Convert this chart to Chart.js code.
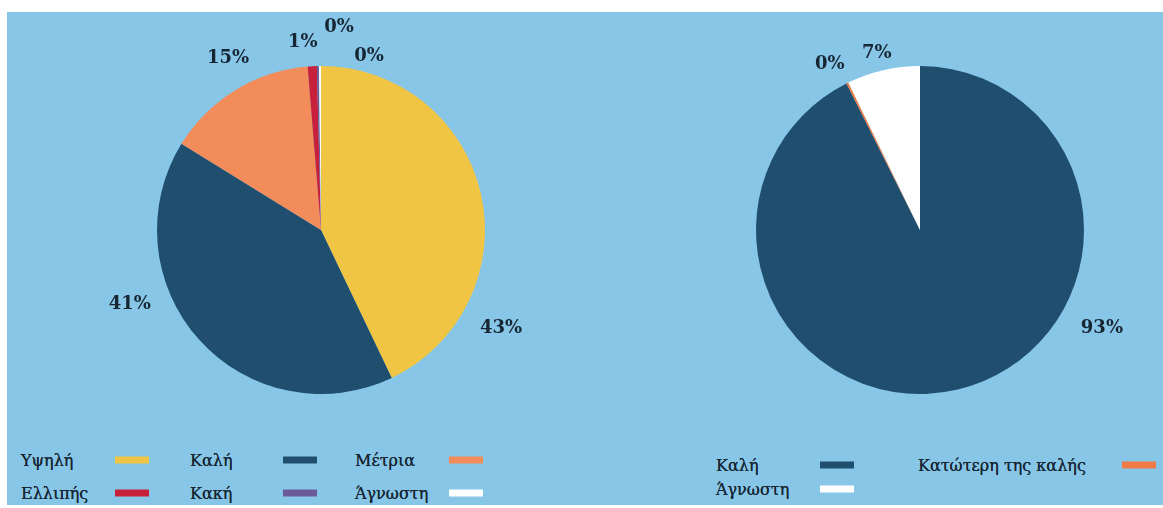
<!DOCTYPE html>
<html>
<head>
<meta charset="utf-8">
<script src="https://cdn.jsdelivr.net/npm/chart.js@4.4.0/dist/chart.umd.min.js"></script>
<style>
  html, body { margin: 0; padding: 0; background: #ffffff; }
  #panel { position: absolute; left: 7px; top: 12px; width: 1156px; height: 493px; background: #88c6e7; }
  .box { position: absolute; }
  .lg { position: absolute; font-family: "DejaVu Serif", serif; font-size: 16px; color: #172633; transform: translateY(-50%); white-space: nowrap; text-shadow: 0 0 0.4px #172633; }
  .sw { position: absolute; height: 7px; width: 34px; transform: translateY(-50%); }
</style>
</head>
<body>
<div id="panel"></div>
<div class="box" style="left:7px;top:12px;width:600px;height:420px"><canvas id="chart-left"></canvas></div>
<div class="box" style="left:607px;top:12px;width:556px;height:420px"><canvas id="chart-right"></canvas></div>
<div id="legends"></div>
<script>
// left pie: quality of the whole
var leftLabels = ["Υψηλή", "Καλή", "Μέτρια", "Ελλιπής", "Κακή", "Άγνωστη"];
var leftValues = [42.9, 40.9, 14.9, 0.9, 0.2, 0.2];
var leftText = ["43%", "41%", "15%", "1%", "0%", "0%"];
var leftColors = ["#f0c544", "#1f4e6e", "#f28c5a", "#c8203a", "#6a5a9a", "#ffffff"];

// right pie
var rightLabels = ["Καλή", "Κατώτερη της καλής", "Άγνωστη"];
var rightValues = [92.6, 0.2, 7.2];
var rightText = ["93%", "0%", "7%"];
var rightColors = ["#1f4e6e", "#f07a45", "#ffffff"];

// draws the % texts around the pie, angle in degrees from 12 o'clock
var outLabels = {
    id: 'outLabels',
    afterDatasetsDraw: function(chart, args, opts) {
        var ctx = chart.ctx;
        var arcs = chart.getDatasetMeta(0).data;
        ctx.save();
        ctx.font = 'bold 18px "DejaVu Serif", serif';
        ctx.fillStyle = '#172633';
        ctx.textAlign = 'center';
        ctx.textBaseline = 'middle';
        arcs.forEach(function(arc, i) {
            var p = opts.place[i];
            var a = (p[0] - 90) * Math.PI / 180;
            var d = arc.outerRadius + p[1];
            ctx.fillText(opts.text[i], arc.x + Math.cos(a) * d, arc.y + Math.sin(a) * d);
        });
        ctx.restore();
    }
};

function makePie(id, labels, values, colors, text, pad, place) {
    return new Chart(document.getElementById(id), {
        type: 'pie',
        data: {
            labels: labels,
            datasets: [{
                data: values,
                backgroundColor: colors,
                borderWidth: 0
            }]
        },
        options: {
            responsive: true,
            maintainAspectRatio: false,
            animation: false,
            layout: { padding: pad },
            plugins: {
                legend: { display: false },
                tooltip: { enabled: false },
                outLabels: { text: text, place: place }
            }
        },
        plugins: [outLabels]
    });
}

makePie('chart-left', leftLabels, leftValues, leftColors, leftText,
    { left: 150, right: 122, top: 54, bottom: 38 },
    [[118.6, 41], [248.8, 41], [331.5, 31], [354.5, 25], [5.1, 39], [15.5, 16]]);
makePie('chart-right', rightLabels, rightValues, rightColors, rightText,
    { left: 149, right: 79, top: 54, bottom: 38 },
    [[118.5, 43], [331.5, 25], [346.3, 18]]);

// legends, drawn as plain html rows
function addLegend(labels, colors, items) {
    var box = document.getElementById('legends');
    items.forEach(function(it) {
        var t = document.createElement('div');
        t.className = 'lg';
        t.style.left = it[1] + 'px';
        t.style.top = it[3] + 'px';
        t.textContent = labels[it[0]];
        box.appendChild(t);
        var s = document.createElement('div');
        s.className = 'sw';
        s.style.left = it[2] + 'px';
        s.style.top = it[3] + 'px';
        s.style.background = colors[it[0]];
        box.appendChild(s);
    });
}
addLegend(leftLabels, leftColors, [
    [0, 21, 115, 460], [1, 190, 283, 460], [2, 355, 449, 460],
    [3, 21, 115, 493], [4, 190, 283, 493], [5, 355, 449, 493]
]);
addLegend(rightLabels, rightColors, [
    [0, 716, 820, 465], [1, 918, 1122, 465], [2, 716, 820, 489]
]);
</script>
</body>
</html>
